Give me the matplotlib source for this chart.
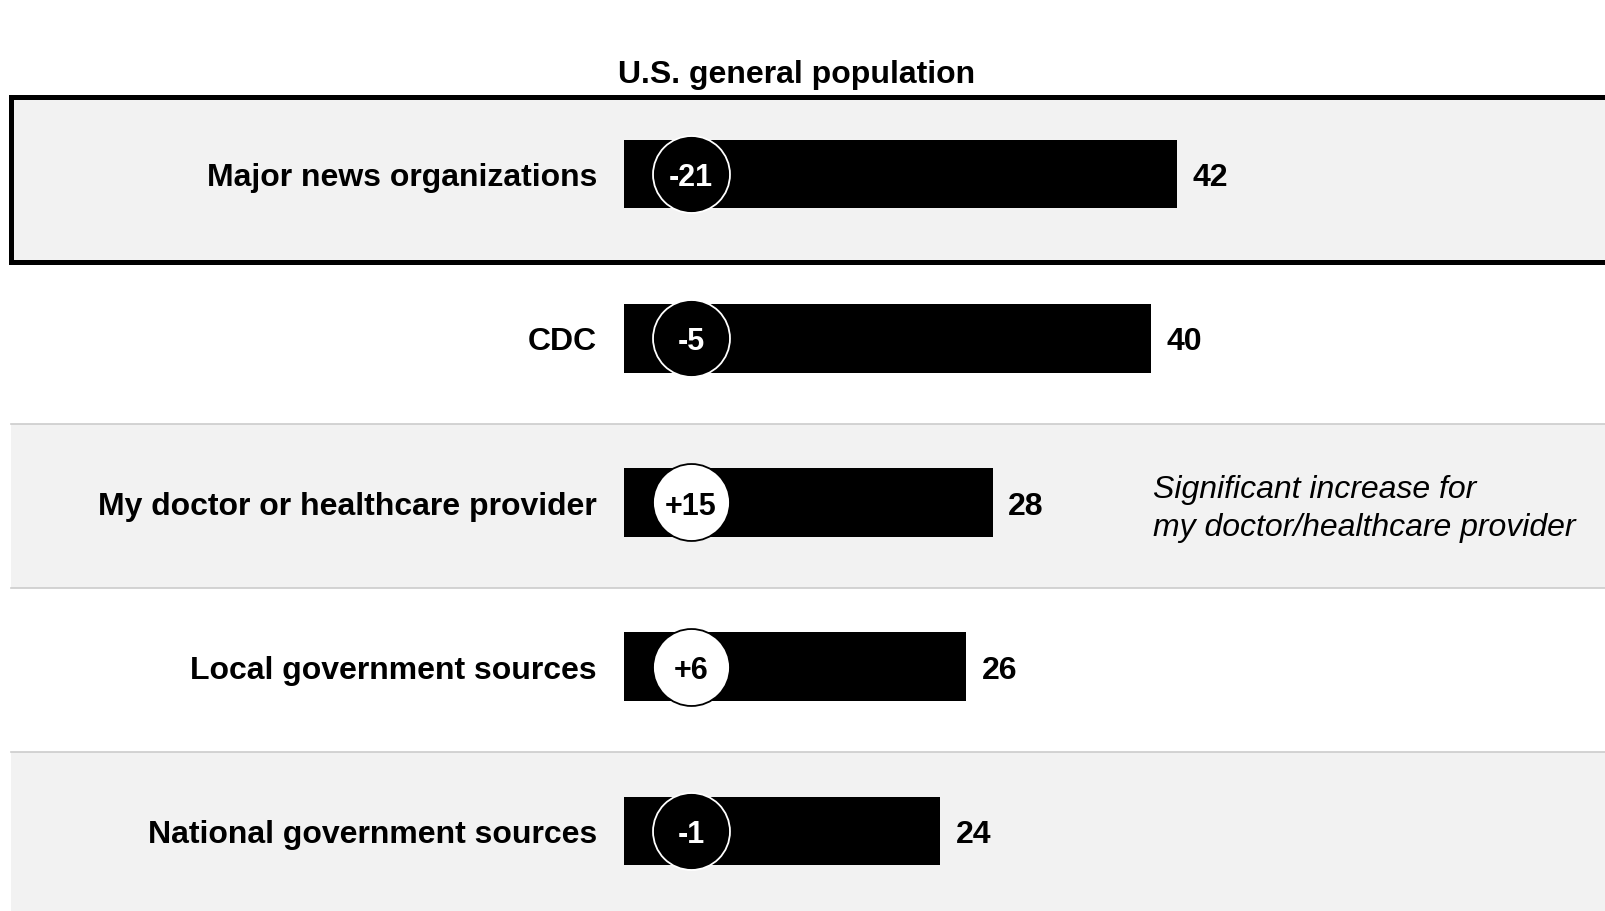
import matplotlib.pyplot as plt
from matplotlib.patches import Rectangle

# data
sources = ['Major news organizations', 'CDC', 'My doctor or healthcare provider',
           'Local government sources', 'National government sources']
values = [42, 40, 28, 26, 24]
changes = ['-21', '-5', '+15', '+6', '-1']
title = 'U.S. general population'
note = 'Significant increase for\nmy doctor/healthcare provider'

plt.rcParams['font.family'] = ['Liberation Sans', 'DejaVu Sans']

fig = plt.figure(figsize=(16.05, 9.11), dpi=100)
ax = fig.add_axes([0, 0, 1, 1])
ax.set_xlim(-47.4, 74.5)
ax.set_ylim(4.487, -1.059)
ax.axis('off')

rows = list(range(len(sources)))

# background bands
x0 = -46.6
for i in rows:
    if i == 0:
        ax.add_patch(Rectangle((x0, i - 0.469), 140, 1.005, facecolor='#f2f2f2',
                               edgecolor='black', lw=3.6, zorder=0))
    elif i % 2 == 0:
        ax.add_patch(Rectangle((x0, i - 0.48), 140, 1.0, facecolor='#f2f2f2',
                               edgecolor='none', zorder=0))
        ax.plot([x0, 80], [i - 0.48, i - 0.48], color='#cccccc', lw=1.2, zorder=1)
        ax.plot([x0, 80], [i + 0.52, i + 0.52], color='#cccccc', lw=1.2, zorder=1)

ax.barh(rows, values, height=0.418, color='black', zorder=2)

dy = 0.025
for i in rows:
    ax.text(-2.05, i + dy, sources[i], ha='right', va='center', fontsize=23,
            fontweight='bold', color='black')
    ax.text(values[i] + 1.17, i + dy, str(values[i]), ha='left', va='center',
            fontsize=23, fontweight='bold', color='black')
    neg = changes[i].startswith('-')
    ax.scatter([5.09], [i], s=3070, color='black' if neg else 'white',
               edgecolors='white' if neg else 'black', linewidths=1.3, zorder=3)
    ax.text(5.09, i + dy, changes[i], ha='center', va='center', fontsize=22,
            fontweight='bold', color='white' if neg else 'black', zorder=4)

ax.text(40.2, 2.04, note, ha='left', va='center', fontsize=23, style='italic',
        linespacing=1.32)

fig.text(0.496, 0.918, title, ha='center', va='center', fontsize=23, fontweight='bold')

fig.savefig('out.png', dpi=100)
